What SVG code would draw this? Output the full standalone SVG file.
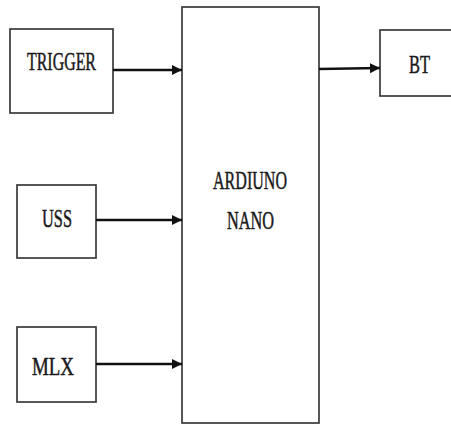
<svg xmlns="http://www.w3.org/2000/svg" width="451" height="425" viewBox="0 0 451 425">
<style>
.box{fill:#fff;stroke:#3a3a3a;stroke-width:1.7}
.lbl{font-family:"Liberation Serif","Times New Roman",serif;font-size:26px;fill:#1a1a1a;stroke:#1a1a1a;stroke-width:0.5;text-anchor:start}
.con{stroke:#111;stroke-width:2.4;fill:none;marker-end:url(#ah)}
</style>
<defs>
<marker id="ah" viewBox="0 0 10 10" refX="10" refY="5" markerWidth="10" markerHeight="12" markerUnits="userSpaceOnUse" orient="auto">
<path d="M0,0 L10,5 L0,10 Z" fill="#111"/>
</marker>
</defs>
<rect width="451" height="425" fill="#fff"/>
<g id="trigger">
<rect class="box" x="10" y="29" width="103" height="84"/>
<text class="lbl" x="27" y="70" textLength="69" lengthAdjust="spacingAndGlyphs">TRIGGER</text>
</g>
<g id="uss">
<rect class="box" x="17" y="185" width="79" height="73"/>
<text class="lbl" x="42" y="227" textLength="30" lengthAdjust="spacingAndGlyphs">USS</text>
</g>
<g id="mlx">
<rect class="box" x="17" y="327" width="79" height="75"/>
<text class="lbl" x="32" y="375" textLength="42" lengthAdjust="spacingAndGlyphs">MLX</text>
</g>
<g id="arduino">
<rect class="box" x="182" y="7" width="137" height="416"/>
<text class="lbl" x="213" y="189" textLength="74" lengthAdjust="spacingAndGlyphs">ARDIUNO</text>
<text class="lbl" x="227" y="229" textLength="47" lengthAdjust="spacingAndGlyphs">NANO</text>
</g>
<g id="bt">
<rect class="box" x="380" y="30" width="75" height="66"/>
<text class="lbl" x="409" y="73" textLength="21" lengthAdjust="spacingAndGlyphs">BT</text>
</g>
<g id="connectors">
<line class="con" x1="113" y1="70" x2="182" y2="70"/>
<line class="con" x1="96" y1="220" x2="182" y2="220"/>
<line class="con" x1="96" y1="364" x2="182" y2="364"/>
<line class="con" x1="319" y1="69" x2="380" y2="68"/>
</g>
</svg>
